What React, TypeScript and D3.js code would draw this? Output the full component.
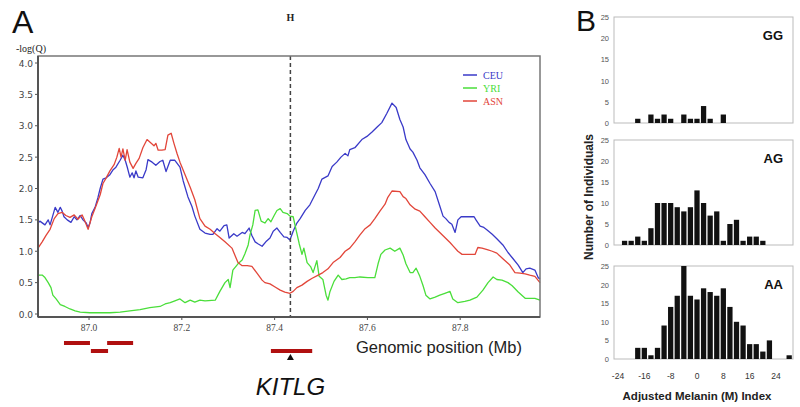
import React from "react";
import * as d3 from "d3";

// ---------- Panel A data ----------
const ceu: [number, number][] = [[86.890,1.45],[86.894,1.48],[86.905,1.42],[86.912,1.5],[86.916,1.42],[86.920,1.52],[86.927,1.70],[86.933,1.62],[86.938,1.70],[86.942,1.64],[86.946,1.55],[86.953,1.50],[86.961,1.46],[86.968,1.55],[86.974,1.50],[86.981,1.57],[86.987,1.50],[86.994,1.45],[86.998,1.38],[87.002,1.45],[87.006,1.60],[87.013,1.70],[87.019,1.85],[87.024,2.0],[87.030,2.15],[87.037,2.17],[87.045,2.22],[87.052,2.30],[87.058,2.34],[87.067,2.45],[87.073,2.53],[87.078,2.45],[87.082,2.35],[87.088,2.18],[87.093,2.25],[87.097,2.17],[87.101,2.28],[87.106,2.18],[87.116,2.17],[87.123,2.30],[87.127,2.46],[87.136,2.42],[87.144,2.37],[87.153,2.43],[87.159,2.45],[87.166,2.27],[87.175,2.45],[87.185,2.45],[87.196,2.34],[87.203,2.12],[87.213,1.87],[87.222,1.71],[87.228,1.56],[87.239,1.35],[87.250,1.29],[87.261,1.27],[87.267,1.27],[87.276,1.36],[87.282,1.32],[87.291,1.41],[87.297,1.42],[87.302,1.21],[87.312,1.28],[87.319,1.24],[87.330,1.30],[87.336,1.28],[87.345,1.37],[87.351,1.25],[87.358,1.15],[87.364,1.12],[87.373,1.08],[87.381,1.15],[87.390,1.21],[87.397,1.32],[87.405,1.37],[87.412,1.30],[87.420,1.23],[87.427,1.22],[87.433,1.18],[87.440,1.32],[87.448,1.45],[87.455,1.52],[87.466,1.65],[87.476,1.74],[87.487,1.90],[87.494,2.0],[87.502,2.15],[87.515,2.20],[87.524,2.35],[87.534,2.42],[87.543,2.50],[87.552,2.56],[87.558,2.52],[87.562,2.62],[87.573,2.65],[87.588,2.78],[87.599,2.83],[87.610,2.90],[87.621,2.98],[87.631,3.05],[87.642,3.20],[87.653,3.36],[87.662,3.29],[87.670,3.10],[87.677,2.98],[87.683,2.78],[87.692,2.63],[87.698,2.58],[87.707,2.45],[87.713,2.33],[87.724,2.22],[87.735,2.08],[87.746,1.95],[87.756,1.72],[87.763,1.56],[87.769,1.52],[87.776,1.46],[87.782,1.43],[87.789,1.30],[87.795,1.50],[87.802,1.55],[87.830,1.55],[87.834,1.50],[87.843,1.40],[87.851,1.38],[87.858,1.34],[87.869,1.27],[87.879,1.20],[87.892,1.10],[87.903,0.98],[87.914,0.88],[87.925,0.78],[87.935,0.66],[87.942,0.72],[87.950,0.73],[87.961,0.70],[87.968,0.58],[87.972,0.56]];

const yri: [number, number][] = [[86.890,0.62],[86.899,0.62],[86.905,0.58],[86.912,0.50],[86.918,0.42],[86.922,0.30],[86.929,0.24],[86.938,0.15],[86.948,0.12],[86.959,0.08],[86.970,0.05],[86.981,0.03],[87.002,0.02],[87.024,0.02],[87.045,0.02],[87.067,0.03],[87.088,0.05],[87.110,0.07],[87.131,0.10],[87.153,0.12],[87.164,0.16],[87.175,0.18],[87.185,0.21],[87.196,0.24],[87.207,0.18],[87.218,0.22],[87.228,0.19],[87.239,0.22],[87.250,0.21],[87.272,0.22],[87.282,0.36],[87.293,0.50],[87.300,0.55],[87.304,0.42],[87.310,0.70],[87.321,0.80],[87.330,0.86],[87.336,0.96],[87.343,1.10],[87.347,1.26],[87.353,1.42],[87.358,1.65],[87.364,1.66],[87.371,1.48],[87.379,1.45],[87.386,1.52],[87.392,1.47],[87.399,1.57],[87.405,1.65],[87.412,1.68],[87.418,1.62],[87.427,1.60],[87.433,1.56],[87.440,1.55],[87.446,1.35],[87.453,1.12],[87.459,0.95],[87.463,1.05],[87.470,0.82],[87.478,0.75],[87.483,0.66],[87.491,0.85],[87.496,0.60],[87.504,0.55],[87.511,0.30],[87.515,0.22],[87.519,0.35],[87.528,0.52],[87.537,0.62],[87.545,0.55],[87.554,0.56],[87.562,0.58],[87.573,0.58],[87.584,0.59],[87.601,0.58],[87.616,0.58],[87.623,0.80],[87.629,0.95],[87.638,1.02],[87.649,1.05],[87.659,1.00],[87.670,1.05],[87.677,0.94],[87.683,0.80],[87.692,0.66],[87.698,0.66],[87.705,0.73],[87.713,0.60],[87.720,0.45],[87.726,0.30],[87.735,0.24],[87.746,0.27],[87.756,0.30],[87.767,0.33],[87.778,0.36],[87.784,0.24],[87.795,0.18],[87.810,0.20],[87.821,0.22],[87.836,0.27],[87.849,0.38],[87.860,0.50],[87.871,0.59],[87.879,0.55],[87.890,0.54],[87.903,0.50],[87.912,0.45],[87.925,0.35],[87.940,0.25],[87.950,0.25],[87.961,0.25],[87.972,0.22]];

const asn: [number, number][] = [[86.890,1.05],[86.899,1.15],[86.907,1.25],[86.916,1.35],[86.925,1.52],[86.933,1.60],[86.942,1.62],[86.950,1.57],[86.959,1.54],[86.968,1.58],[86.976,1.51],[86.985,1.58],[86.991,1.48],[86.998,1.35],[87.006,1.55],[87.015,1.72],[87.024,1.90],[87.030,2.08],[87.037,2.17],[87.045,2.28],[87.054,2.38],[87.060,2.50],[87.065,2.64],[87.069,2.50],[87.073,2.63],[87.078,2.45],[87.082,2.62],[87.088,2.42],[87.095,2.32],[87.101,2.40],[87.108,2.48],[87.116,2.65],[87.125,2.78],[87.134,2.72],[87.140,2.68],[87.144,2.72],[87.149,2.61],[87.157,2.61],[87.164,2.62],[87.170,2.85],[87.177,2.88],[87.183,2.72],[87.190,2.55],[87.196,2.42],[87.207,2.22],[87.218,2.02],[87.228,1.82],[87.239,1.52],[87.250,1.40],[87.261,1.35],[87.272,1.28],[87.282,1.22],[87.293,1.15],[87.308,1.05],[87.321,0.82],[87.330,0.77],[87.341,0.77],[87.351,0.76],[87.362,0.65],[87.373,0.54],[87.379,0.50],[87.390,0.48],[87.401,0.43],[87.412,0.38],[87.422,0.35],[87.433,0.33],[87.440,0.36],[87.448,0.42],[87.459,0.46],[87.470,0.52],[87.481,0.57],[87.494,0.62],[87.504,0.66],[87.515,0.72],[87.526,0.82],[87.541,0.90],[87.552,1.00],[87.562,1.05],[87.573,1.15],[87.584,1.26],[87.595,1.36],[87.606,1.42],[87.616,1.52],[87.627,1.64],[87.638,1.75],[87.644,1.86],[87.653,1.96],[87.670,1.95],[87.677,1.87],[87.683,1.84],[87.692,1.74],[87.703,1.67],[87.713,1.64],[87.724,1.55],[87.735,1.46],[87.746,1.37],[87.756,1.30],[87.767,1.22],[87.778,1.14],[87.784,1.09],[87.795,1.00],[87.804,0.95],[87.832,0.95],[87.838,1.06],[87.847,1.05],[87.860,1.02],[87.869,1.00],[87.879,0.97],[87.892,0.88],[87.907,0.78],[87.918,0.66],[87.929,0.65],[87.940,0.64],[87.950,0.62],[87.961,0.60],[87.972,0.50]];

const seriesNames = ["CEU", "YRI", "ASN"];
const seriesColors = ["#3a3ac8", "#4ade3a", "#e2463a"];
const yTicksA = [0, 0.5, 1.0, 1.5, 2.0, 2.5, 3.0, 3.5, 4.0];
const xTicksA = [87.0, 87.2, 87.4, 87.6, 87.8];
const markerPos = 87.434;
// gene segments [start, end, row]
const genes: [number, number, number][] = [[86.946, 87.002, 0], [87.004, 87.041, 1], [87.039, 87.095, 0], [87.392, 87.481, 1]];

// ---------- Panel B data ----------
const binCenters = [-22, -20, -18, -16, -14, -12, -10, -8, -6, -4, -2, 0, 2, 4, 6, 8, 10, 12, 14, 16, 18, 20, 22, 24, 26, 28];
const ggCounts = [0, 0, 1, 0, 2, 1, 2, 1, 0, 2, 1, 1, 4, 1, 0, 2, 0, 0, 0, 0, 0, 0, 0, 0, 0, 0];
const agCounts = [1, 1, 2, 1, 4, 10, 10, 10, 9, 8, 9, 13, 10, 7, 8, 1, 5, 6, 1, 2, 2, 1, 0, 0, 0, 0];
const aaCounts = [0, 0, 3, 3, 1, 3, 9, 14, 17, 25, 17, 16, 19, 18, 17, 19, 14, 10, 9, 4, 4, 2, 5, 0, 0, 1];
const histTicksY = [0, 5, 10, 15, 20, 25];
const histTicksX = [-24, -16, -8, 0, 8, 16, 24];
const genotypes = ["GG", "AG", "AA"];

export default function App() {
  const W = 800, H = 407;
  const x = d3.scaleLinear().domain([86.89, 87.972]).range([38, 540]);
  const y = d3.scaleLinear().domain([0, 4]).range([314, 63]);
  const top = 56, bottom = 317, left = 38, right = 540;
  const line = d3.line<[number, number]>().x(d => x(d[0])).y(d => y(d[1]));
  const allSeries = [ceu, yri, asn];

  const hx = d3.scaleLinear().domain([-24, 24]).range([618, 776]);
  const panels = [
    { name: genotypes[0], counts: ggCounts, top: 17, bottom: 123 },
    { name: genotypes[1], counts: agCounts, top: 140, bottom: 245 },
    { name: genotypes[2], counts: aaCounts, top: 266, bottom: 359 },
  ];
  const hLeft = 614, hRight = 793;
  const bw = hx(1.6) - hx(0);

  return (
    <svg width={W} height={H} style={{ position: "absolute", left: 0, top: 0, background: "#fff" }}>
      {/* Panel A */}
      <text x={12} y={33} fontFamily="Liberation Sans, Arial" fontSize={32} fill="#111">A</text>
      <text x={16} y={52} fontFamily="Liberation Serif, serif" fontSize={10} fill="#222">-log(Q)</text>
      <text x={x(markerPos)} y={21} textAnchor="middle" fontFamily="Liberation Serif, serif" fontWeight="bold" fontSize={10} fill="#222">H</text>

      {allSeries.map((s, i) => (
        <path key={i} d={line(s) || ""} fill="none" stroke={seriesColors[i]} strokeWidth={1.3} strokeLinejoin="round" />
      ))}

      <line x1={x(markerPos)} x2={x(markerPos)} y1={top} y2={bottom} stroke="#444" strokeWidth={1.5} strokeDasharray="4,3" />

      <rect x={left} y={top} width={right - left} height={bottom - top} fill="none" stroke="#777" strokeWidth={1.5} />
      <line x1={left} x2={left} y1={top} y2={bottom} stroke="#555" strokeWidth={2} />
      <line x1={left} x2={right} y1={bottom} y2={bottom} stroke="#555" strokeWidth={2} />

      {yTicksA.map(t => (
        <g key={t}>
          <line x1={left - 3} x2={left} y1={y(t)} y2={y(t)} stroke="#555" />
          <text x={left - 5} y={y(t) + 3.5} textAnchor="end" fontFamily="DejaVu Sans, sans-serif" fontSize={9} fill="#444">{t.toFixed(1)}</text>
        </g>
      ))}
      {xTicksA.map(t => (
        <g key={t}>
          <line x1={x(t)} x2={x(t)} y1={bottom} y2={bottom + 3} stroke="#555" />
          <text x={x(t)} y={bottom + 14} textAnchor="middle" fontFamily="Liberation Serif, serif" fontSize={9.5} fill="#444">{t.toFixed(1)}</text>
        </g>
      ))}

      {seriesNames.map((n, i) => (
        <g key={n}>
          <line x1={463} x2={477} y1={75 + i * 13} y2={75 + i * 13} stroke={seriesColors[i]} strokeWidth={1.5} />
          <text x={483} y={79 + i * 13} fontFamily="Liberation Serif, serif" fontSize={10} fill={seriesColors[i]}>{n}</text>
        </g>
      ))}

      {genes.map((g, i) => (
        <rect key={i} x={x(g[0])} y={(g[2] === 0 ? 343 : 351) - 2} width={x(g[1]) - x(g[0])} height={4} fill="#b01010" />
      ))}
      <path d={`M${x(markerPos)},${354} l-3.5,6 l7,0 z`} fill="#111" />
      <text x={356} y={353} fontFamily="Liberation Sans, Arial" fontSize={16.5} fill="#222">Genomic position (Mb)</text>
      <text x={x(markerPos)} y={395} textAnchor="middle" fontFamily="Liberation Sans, Arial" fontStyle="italic" fontSize={24} fill="#111">KITLG</text>

      {/* Panel B */}
      <text x={576} y={31} fontFamily="Liberation Sans, Arial" fontSize={30} fill="#111">B</text>
      <text transform={`translate(593,197) rotate(-90)`} textAnchor="middle" fontFamily="Liberation Sans, Arial" fontWeight="bold" fontSize={12} fill="#222">Number of Individuals</text>
      {panels.map(p => {
        const hy = d3.scaleLinear().domain([0, 25]).range([p.bottom, p.top]);
        return (
          <g key={p.name}>
            <rect x={hLeft} y={p.top} width={hRight - hLeft} height={p.bottom - p.top} fill="none" stroke="#bbb" strokeWidth={1} />
            {histTicksY.map(t => (
              <text key={t} x={609} y={hy(t) + 3} textAnchor="end" fontFamily="Liberation Sans, Arial" fontSize={7.5} fill="#555">{t}</text>
            ))}
            {binCenters.map((c, i) => p.counts[i] > 0 ? (
              <rect key={c} x={hx(c) - bw / 2} y={hy(p.counts[i])} width={bw} height={hy(0) - hy(p.counts[i])} fill="#111" />
            ) : null)}
            <text x={hRight - 10} y={p.top + 23} textAnchor="end" fontFamily="Liberation Sans, Arial" fontWeight="bold" fontSize={13} fill="#111">{p.name}</text>
          </g>
        );
      })}
      {histTicksX.map(t => (
        <text key={t} x={hx(t)} y={379} textAnchor="middle" fontFamily="Liberation Sans, Arial" fontSize={8.5} fill="#333">{t}</text>
      ))}
      <text x={697} y={400} textAnchor="middle" fontFamily="Liberation Sans, Arial" fontWeight="bold" fontSize={11.5} fill="#222">Adjusted Melanin (M) Index</text>
    </svg>
  );
}
